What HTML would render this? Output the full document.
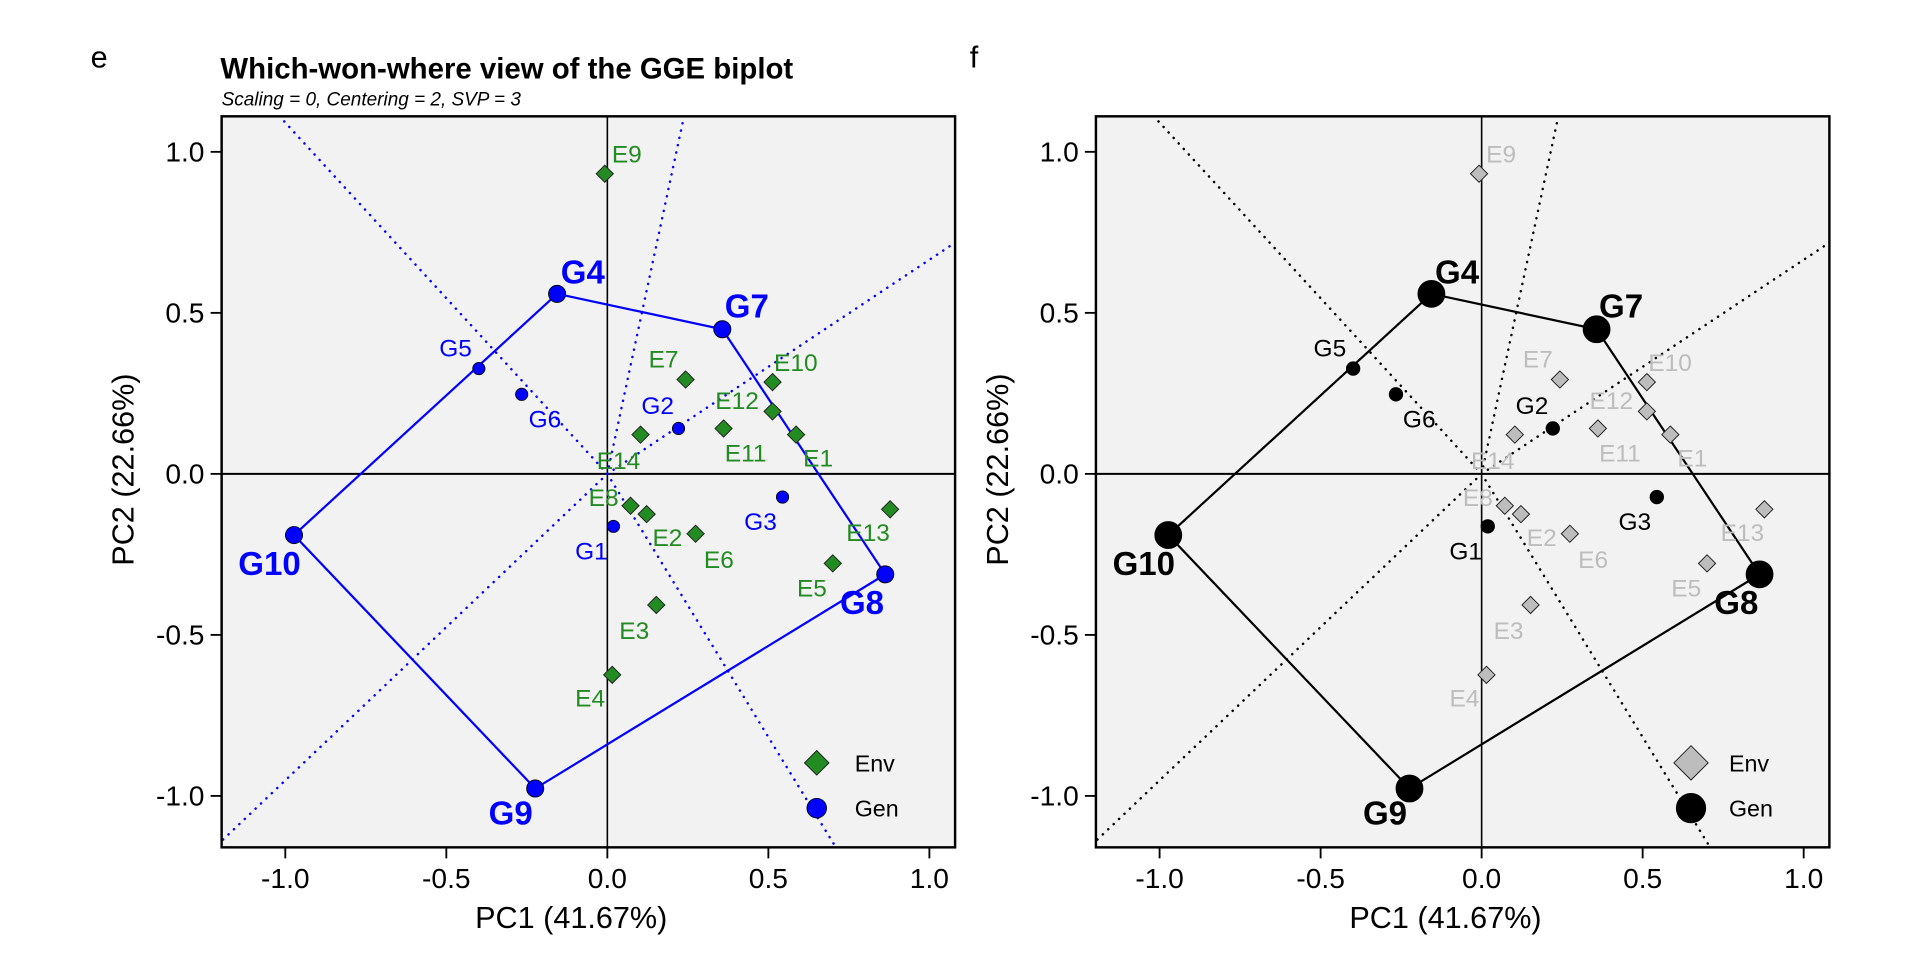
<!DOCTYPE html>
<html><head><meta charset="utf-8"><style>
html,body{margin:0;padding:0;background:#fff;width:1920px;height:960px;overflow:hidden}
svg{display:block;position:absolute;left:0;top:0;font-family:"Liberation Sans",Arial,sans-serif}
</style></head><body>
<svg id="s" width="1920" height="960" viewBox="0 0 1568 784"></svg>
<script>
const genNames=["G1","G2","G3","G4","G5","G6","G7","G8","G9","G10"];
const genPC1=[0.019,0.221,0.544,-0.156,-0.399,-0.266,0.357,0.863,-0.224,-0.973];
const genPC2=[-0.163,0.141,-0.072,0.559,0.327,0.247,0.449,-0.312,-0.977,-0.190];
const envNames=["E1","E2","E3","E4","E5","E6","E7","E8","E9","E10","E11","E12","E13","E14"];
const envPC1=[0.586,0.122,0.152,0.015,0.700,0.274,0.243,0.072,-0.008,0.513,0.361,0.513,0.878,0.103];
const envPC2=[0.122,-0.125,-0.407,-0.624,-0.278,-0.186,0.293,-0.099,0.932,0.285,0.141,0.194,-0.110,0.122];
const hullOrder=["G4","G7","G8","G9","G10"];
const tickValues=[-1.0,-0.5,0.0,0.5,1.0];
const tickLabels=["-1.0","-0.5","0.0","0.5","1.0"];
// label offsets (layout)
const genOff={G1:[-18,20],G2:[-17,-19],G3:[-18,20],G4:[21,-18],G5:[-19,-17],G6:[19,20],G7:[20,-19],G8:[-19,23],G9:[-20,20],G10:[-20,23]};
const envOff={E1:[18,19],E2:[17,19],E3:[-18,21],E4:[-18,19],E5:[-17,20],E6:[19,21],E7:[-18,-17],E8:[-22,-7],E9:[18,-16],E10:[19,-16],E11:[18,20],E12:[-29,-9],E13:[-18,19],E14:[-18,21]};
const NS="http://www.w3.org/2000/svg";
const svg=document.getElementById("s");
function el(t,a,p){const e=document.createElementNS(NS,t);for(const k in a)e.setAttribute(k,a[k]);(p||svg).appendChild(e);return e;}
function txt(s,a,p){const e=el("text",a,p);e.textContent=s;return e;}

function panel(cfg){
  const L=cfg.L,T=95,R=cfg.L+599,B=692;
  const x0=cfg.L+315,y0=387,U=263;
  const sx=v=>x0+v*U, sy=v=>y0-v*U;
  const g=el("g",{});
  
  
  const bg=el("rect",{x:L,y:T,width:R-L,height:B-T,fill:"#f2f2f2"},g);
  
  
  const clipId="c"+cfg.L;
  const cp=el("clipPath",{id:clipId},g);el("rect",{x:L,y:T,width:R-L,height:B-T},cp);
  const inner=el("g",{"clip-path":"url(#"+clipId+")"},g);
  el("line",{x1:L,x2:R,y1:sy(0),y2:sy(0),stroke:"#000","stroke-width":1.6},inner);
  el("line",{x1:sx(0),x2:sx(0),y1:T,y2:B,stroke:"#000","stroke-width":1.3},inner);
  const hp=hullOrder.map(n=>{const i=genNames.indexOf(n);return [genPC1[i],genPC2[i]];});
  for(let k=0;k<hp.length;k++){
    const a=hp[k],b=hp[(k+1)%hp.length];
    const dx=b[0]-a[0],dy=b[1]-a[1];
    const t=-(a[0]*dx+a[1]*dy)/(dx*dx+dy*dy);
    const fx=a[0]+t*dx,fy=a[1]+t*dy;
    const m=Math.hypot(fx,fy),ux=fx/m,uy=fy/m;
    const ray=el("line",{x1:sx(0),y1:sy(0),x2:sx(ux*3),y2:sy(uy*3),stroke:cfg.ray,"stroke-width":2,"stroke-dasharray":"0.1 6","stroke-linecap":"round"},inner);
    
    
  }
  const poly=el("polygon",{points:hp.map(p=>sx(p[0])+","+sy(p[1])).join(" "),fill:"none",stroke:cfg.gcol,"stroke-width":1.8},inner);
  
  
  envNames.forEach((n,i)=>{
    const cx=sx(envPC1[i]),cy=sy(envPC2[i]),r=7;
    const d=el("polygon",{points:`${cx},${cy-r} ${cx+r},${cy} ${cx},${cy+r} ${cx-r},${cy}`,fill:cfg.efill,stroke:"#222","stroke-width":0.8},inner);
    
    
    const o=envOff[n];
    const t=txt(n,{x:cx+o[0],y:cy+o[1]+7,"text-anchor":"middle","font-size":20,fill:cfg.etext},inner);
    
    
  });
  genNames.forEach((n,i)=>{
    const isH=hullOrder.includes(n);
    const cx=sx(genPC1[i]),cy=sy(genPC2[i]);
    const r=isH?cfg.rh:cfg.rs;
    const c=el("circle",{cx:cx,cy:cy,r:r,fill:cfg.gcol,stroke:"#000","stroke-width":0.7},inner);
    
    
    const o=genOff[n];
    const t=txt(n,{x:cx+o[0],y:cy+o[1]+(isH?9.5:7),"text-anchor":"middle","font-size":isH?27:20,"font-weight":isH?"bold":"normal",fill:cfg.gcol},inner);
    
    
  });
  el("rect",{x:L,y:T,width:R-L,height:B-T,fill:"none",stroke:"#000","stroke-width":2},g);
  tickValues.forEach((v,i)=>{
    el("line",{x1:sx(v),x2:sx(v),y1:B,y2:B+9,stroke:"#000","stroke-width":1.5},g);
    const tx=txt(tickLabels[i],{x:sx(v),y:B+33,"text-anchor":"middle","font-size":23},g);
    
    
    el("line",{x1:L-9,x2:L,y1:sy(v),y2:sy(v),stroke:"#000","stroke-width":1.5},g);
    const ty=txt(tickLabels[i],{x:L-14,y:sy(v)+8,"text-anchor":"end","font-size":23},g);
    
    
  });
  const xt=txt("PC1 (41.67%)",{x:(L+R)/2-14,y:B+66,"text-anchor":"middle","font-size":25},g);
  
  
  const yt=txt("PC2 (22.66%)",{x:0,y:0,"text-anchor":"middle","font-size":25,transform:`translate(${L-72},${(T+B)/2-10}) rotate(-90)`},g);
  
  
  const lx=cfg.L+486;
  const lr=cfg.legR;
  const ld=el("polygon",{points:`${lx},${623-lr} ${lx+lr},623 ${lx},${623+lr} ${lx-lr},623`,fill:cfg.efill,stroke:"#222","stroke-width":0.8},g);
  
  
  const le=txt("Env",{x:lx+31,y:630,"font-size":19},g);
  
  
  const lc=el("circle",{cx:lx,cy:660,r:cfg.legC,fill:cfg.gcol,stroke:"#000","stroke-width":0.7},g);
  
  
  const lg=txt("Gen",{x:lx+31,y:667,"font-size":19},g);
  
  
}
panel({name:"panel-e",L:181,ray:"#0000ff",gcol:"#0000ff",efill:"#228b22",etext:"#228b22",rh:7,rs:5,legR:10,legC:8});
panel({name:"panel-f",L:895,ray:"#000",gcol:"#000",efill:"#bdbdbd",etext:"#bdbdbd",rh:11,rs:5.5,legR:14,legC:12});
const pe=txt("e",{x:74,y:55,"font-size":25});


const pf=txt("f",{x:792,y:55,"font-size":25});


const ti=txt("Which-won-where view of the GGE biplot",{x:180,y:64,"font-size":24,"font-weight":"bold"});


const st=txt("Scaling = 0, Centering = 2, SVP = 3",{x:181,y:86,"font-size":15.5,"font-style":"italic"});


</script>
</body></html>
